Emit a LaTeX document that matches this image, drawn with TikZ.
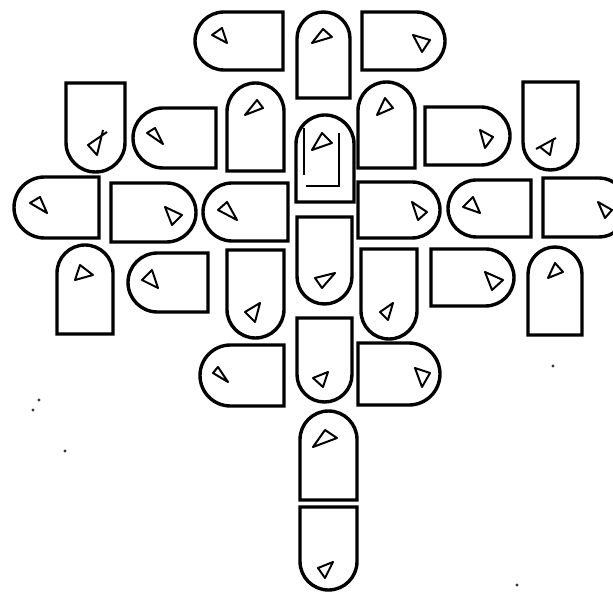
\documentclass[tikz,border=0pt]{standalone}
\usetikzlibrary{shapes.misc}
\begin{document}
\begin{tikzpicture}[x=0.03cm, y=-0.03cm,
  tl/.style={draw, line width=2.9pt, rounded rectangle, rounded rectangle left arc=none, inner sep=0pt, outer sep=0pt},
  tri/.style={draw, line width=1.7pt, line join=round},
  ln/.style={draw, line width=1.8pt},
  dot/.style={fill=black!80}]
\useasboundingbox (0,0) rectangle (613,598);
\clip (0,0) rectangle (613,598);
% tiles: name/x/y/long side/short side/angle of the round end
\foreach \n/\x/\y/\l/\s/\r in {
  1/239/41/88/58/180, 2/323.5/55/86/53/90, 3/403.5/41/83/58/0,
  4/95.5/127.5/89/59/270, 5/174.5/138/83/60/180, 6/255.5/127/88/57/90,
  7/325/158.5/87/58/90, 8/386.5/125/86/57/90, 9/467.5/136/85/58/0,
  10/550.5/126/88/55/270,
  11/56.5/207.5/85/61/180, 12/153.5/212.5/85/59/0, 13/245.5/212/85/58/180,
  14/324.5/260.5/87/55/270, 15/399/210/82/56/0, 16/489.5/208.5/83/57/180,
  17/585.5/207.5/85/59/0,
  18/85/289.5/89/56/90, 19/168/282.5/80/59/180, 20/255.5/294/88/57/270,
  21/389/294/90/56/270, 22/472.5/277.5/83/57/0, 23/555/291/88/54/90,
  24/242/375.5/84/61/180, 25/324.5/360/84/55/270, 26/399/374/82/62/0,
  27/328.5/455.5/89/57/90, 28/328.5/548.5/83/57/270} {
  \node[tl, minimum width=\l*0.03cm, minimum height=\s*0.03cm, rotate=\r] (t\n) at (\x,\y) {};
}
% window in the middle tile
\draw[ln] (304,128) -- (304,175);
\draw[ln] (306,186) -- (339,186) -- (339,133);
% triangles
\foreach \ax/\ay/\bx/\by/\cx/\cy in {
  212/35/222/28/227/43, 312/43/323/29/332/37, 413/35/430/40/422/52,
  147/133/155/128/163/144, 245/115/257/100/263/108, 312/150/322/133/332/143,
  377/115/385/98/393/108, 480/130/493/137/485/148,
  30/203/40/197/47/213, 165/207/182/215/172/225, 218/210/227/202/237/220,
  315/278/335/273/322/288, 412/202/427/212/418/220, 463/207/473/197/480/213,
  598/202/612/210/605/218,
  75/280/80/265/93/275, 142/280/152/270/158/288, 245/312/260/303/255/322,
  380/312/393/303/388/320, 485/272/503/280/492/290, 548/278/555/263/563/272,
  213/373/218/367/228/382, 313/378/328/372/323/387, 415/368/430/373/422/387,
  313/447/325/430/337/438, 318/568/333/562/325/578} {
  \draw[tri] (\ax,\ay) -- (\bx,\by) -- (\cx,\cy) -- cycle;
}
% crossed triangles
\draw[tri] (107,132) -- (88,145) -- (97,155) -- (103,130);
\draw[tri] (536,149) -- (556,138);
\draw[tri] (540,147) -- (550,155) -- (553,140);
% specks
\foreach \x/\y in {33/410, 39/400, 65/451, 553/366, 517/585}
  \fill[dot] (\x,\y) circle (1.3pt);
\end{tikzpicture}
\end{document}
